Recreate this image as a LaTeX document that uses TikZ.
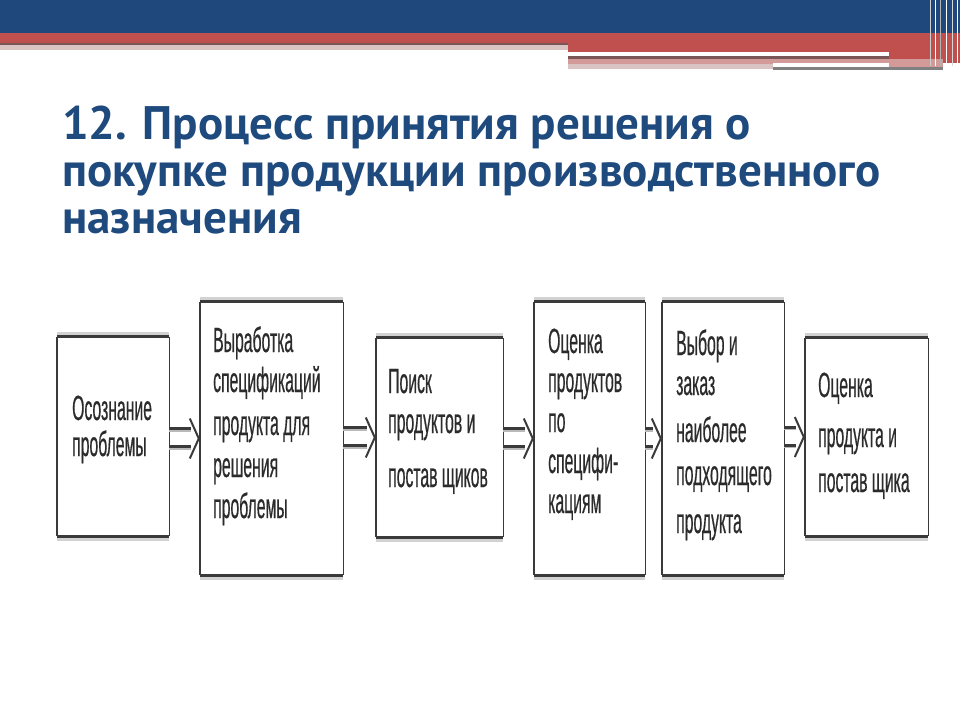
\documentclass[tikz,border=0pt]{standalone}
\usepackage{fontspec}
\setmainfont{Liberation Sans}
\newfontfamily\titlefont{PT Sans}
\newfontfamily\boxfont[FakeStretch=0.45,FakeBold=0.4]{Liberation Sans}
\definecolor{topblue}{HTML}{1F497D}
\definecolor{topred}{HTML}{C0504D}
\definecolor{darkline}{HTML}{7A5656}
\definecolor{paleline}{HTML}{D9C3C3}
\definecolor{pinkband}{HTML}{D29A98}
\definecolor{titleblue}{HTML}{1F4A7E}
\definecolor{edge}{HTML}{3A3A3A}
\definecolor{txtgray}{HTML}{2B2B2B}
\tikzset{
  stagebox/.style={inner sep=0pt, draw=none},
  sideline/.style={draw=edge, line width=1.4pt},
  capline/.style={draw=edge, line width=3.2pt},
  caphalo/.style={draw=gray!35, line width=6pt},
  boxtext/.style={inner sep=0pt, text=txtgray, font=\boxfont\fontsize{35}{38}\selectfont},
  titletext/.style={inner sep=0pt, text=titleblue, font=\titlefont\bfseries\fontsize{47}{50}\selectfont},
  shaft/.style={draw=edge, line width=4.2pt},
  shaftlight/.style={draw=gray!55, line width=1.6pt},
  chev/.style={draw=edge, line width=2pt, line join=round}
}
\newcommand\boxedges[1]{%
  \draw[caphalo] ([yshift=1.5pt]#1.north west) -- ([yshift=1.5pt]#1.north east);
  \draw[caphalo] ([yshift=-1.5pt]#1.south west) -- ([yshift=-1.5pt]#1.south east);
  \draw[sideline] (#1.north west) -- (#1.south west) (#1.north east) -- (#1.south east);
  \draw[capline] (#1.north west) -- (#1.north east) (#1.south west) -- (#1.south east);
}
\newcommand\dblarr[2]{%
  \path (#1.east |- #2.west) coordinate (#1s) (#2.west) coordinate (#2t);
  \draw[shaft] ([yshift=9pt]#1s) -- ([xshift=-9pt,yshift=9pt]#2t);
  \draw[shaft] ([yshift=-9pt]#1s) -- ([xshift=-9pt,yshift=-9pt]#2t);
  \draw[shaftlight] ([yshift=7.5pt]#1s) -- ([xshift=-9pt,yshift=7.5pt]#2t);
  \draw[shaftlight] ([yshift=-10.5pt]#1s) -- ([xshift=-9pt,yshift=-10.5pt]#2t);
  \draw[chev] ([xshift=-10pt,yshift=20pt]#2t) -- ([xshift=-1pt]#2t) -- ([xshift=-10pt,yshift=-20pt]#2t);
}
\begin{document}
\begin{tikzpicture}[x=1pt,y=-1pt]
\useasboundingbox (0,0) rectangle (960,720);
\fill[white] (0,0) rectangle (960,720);
% top decoration
\fill[topblue] (0,0) rectangle (960,32.5);
\fill[topred] (0,32.5) rectangle (568,42.5);
\fill[darkline] (0,42.5) rectangle (568,45);
\fill[paleline] (0,45) rectangle (568,50);
\fill[topred] (568,32.5) rectangle (960,52);
\fill[white] (568,52) rectangle (889,55.5);
\fill[darkline] (568,55.5) rectangle (889,58.5);
\fill[pinkband] (568,58.5) rectangle (773,64);
\fill[paleline] (568,64) rectangle (773,68.5);
\fill[pinkband] (773,58.5) rectangle (889,63);
\fill[white] (773,63) rectangle (943,66.5);
\fill[gray] (773,66.5) rectangle (943,69.5);
\fill[topred] (889,52) rectangle (960,63);
\fill[pinkband] (889,58.5) rectangle (943,66.5);
\foreach \xx/\cc in {930/gray!40, 935/white, 940/gray!60, 946/white, 952/gray!30, 957/white}
  \draw[\cc, line width=1pt] (\xx,0) -- (\xx,66);
% title
\node[titletext, anchor=base west] (title1) at (62,139) {12. Процесс принятия решения о};
\node[titletext, anchor=base west] (title2) at (62,186) {покупке продукции производственного};
\node[titletext, anchor=base west] (title3) at (62,233) {назначения};
% boxes
\node[stagebox, minimum width=112pt, minimum height=199pt] (b1) at (113,436.5) {};
\node[stagebox, minimum width=143pt, minimum height=273pt] (b2) at (271.5,438.5) {};
\node[stagebox, minimum width=127pt, minimum height=199pt] (b3) at (439.5,437.5) {};
\node[stagebox, minimum width=111pt, minimum height=273pt] (b4) at (589.5,438.5) {};
\node[stagebox, minimum width=122pt, minimum height=273pt] (b5) at (723,438.5) {};
\node[stagebox, minimum width=123pt, minimum height=198pt] (b6) at (866.5,437) {};
\foreach \b in {b1,b2,b3,b4,b5,b6} {\boxedges{\b}}
% arrows
\dblarr{b1}{b2}
\dblarr{b2}{b3}
\dblarr{b3}{b4}
\dblarr{b4}{b5}
\dblarr{b5}{b6}
% texts
\foreach \yy/\linetext [count=\i] in {420/Осознание, 456/проблемы}
  \node[boxtext, anchor=base west] (b1l\i) at (72,\yy) {\linetext};
\foreach \yy/\linetext [count=\i] in {352/Выработка, 392/спецификаций, 435/продукта для, 477/решения, 518/проблемы}
  \node[boxtext, anchor=base west] (b2l\i) at (213,\yy) {\linetext};
\foreach \yy/\linetext [count=\i] in {393/Поиск, 433/продуктов и, 487/постав щиков}
  \node[boxtext, anchor=base west] (b3l\i) at (388,\yy) {\linetext};
\foreach \yy/\linetext [count=\i] in {353/Оценка, 392/продуктов, 432/по, 473/специфи-, 513/кациям}
  \node[boxtext, anchor=base west] (b4l\i) at (548,\yy) {\linetext};
\foreach \yy/\linetext [count=\i] in {355/Выбор и, 395/заказ, 442/наиболее, 485/подходящего, 533/продукта}
  \node[boxtext, anchor=base west] (b5l\i) at (676,\yy) {\linetext};
\foreach \yy/\linetext [count=\i] in {397/Оценка, 447/продукта и, 492/постав щика}
  \node[boxtext, anchor=base west] (b6l\i) at (818,\yy) {\linetext};
\end{tikzpicture}
\end{document}
